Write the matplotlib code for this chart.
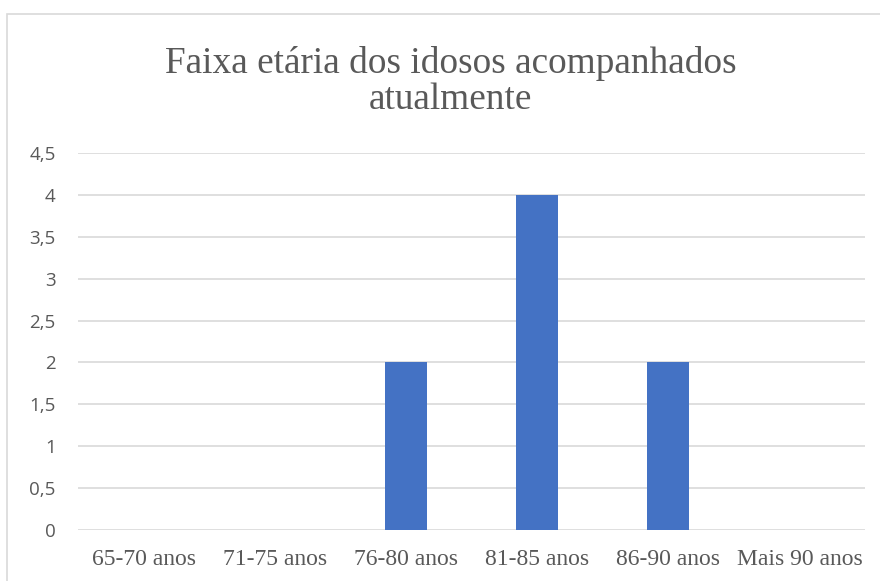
import matplotlib
matplotlib.use("Agg")
import matplotlib.pyplot as plt
from matplotlib.patches import Rectangle

# data
categories = ["65-70 anos", "71-75 anos", "76-80 anos", "81-85 anos", "86-90 anos", "Mais 90 anos"]
counts = [0, 0, 2, 4, 2, 0]
y_ticks = [0, 0.5, 1, 1.5, 2, 2.5, 3, 3.5, 4, 4.5]
y_tick_labels = ["0", "0,5", "1", "1,5", "2", "2,5", "3", "3,5", "4", "4,5"]
title = "Faixa etária dos idosos acompanhados\natualmente"

text_grey = "#595959"
bar_blue = "#4472C4"
grid_grey = "#D9D9D9"

fig = plt.figure(figsize=(8.8, 5.81), dpi=100)
ax = fig.add_axes([0.0886, 0.0878, 0.8944, 0.6489])

# chart border (cropped at right and bottom in the original)
fig.patches.append(Rectangle((7 / 880, -0.1), 1.2, 1 - 14 / 581 + 0.1,
                             transform=fig.transFigure, fill=False,
                             edgecolor="#D9D9D9", linewidth=1.2))

x = range(len(categories))
ax.bar(x, counts, width=0.32, color=bar_blue, zorder=3)

ax.set_xlim(-0.5, len(categories) - 0.5)
ax.set_ylim(0, 4.5)
ax.set_yticks(y_ticks)
ax.set_yticklabels(y_tick_labels, fontfamily="Open Sans", fontsize=13.5, color=text_grey)
ax.set_xticks(list(x))
ax.set_xticklabels(categories, fontfamily="Liberation Serif", fontsize=17, color=text_grey)
ax.tick_params(axis="both", length=0)
ax.tick_params(axis="y", pad=16)
ax.tick_params(axis="x", pad=14)

ax.grid(axis="y", color=grid_grey, linewidth=1.2, zorder=0)
for s in ax.spines.values():
    s.set_visible(False)

fig.text(0.512, 0.86, title, ha="center", va="center", fontfamily="Liberation Serif",
         fontsize=26.8, color=text_grey, linespacing=1.05)

fig.savefig("out.png", dpi=100)
